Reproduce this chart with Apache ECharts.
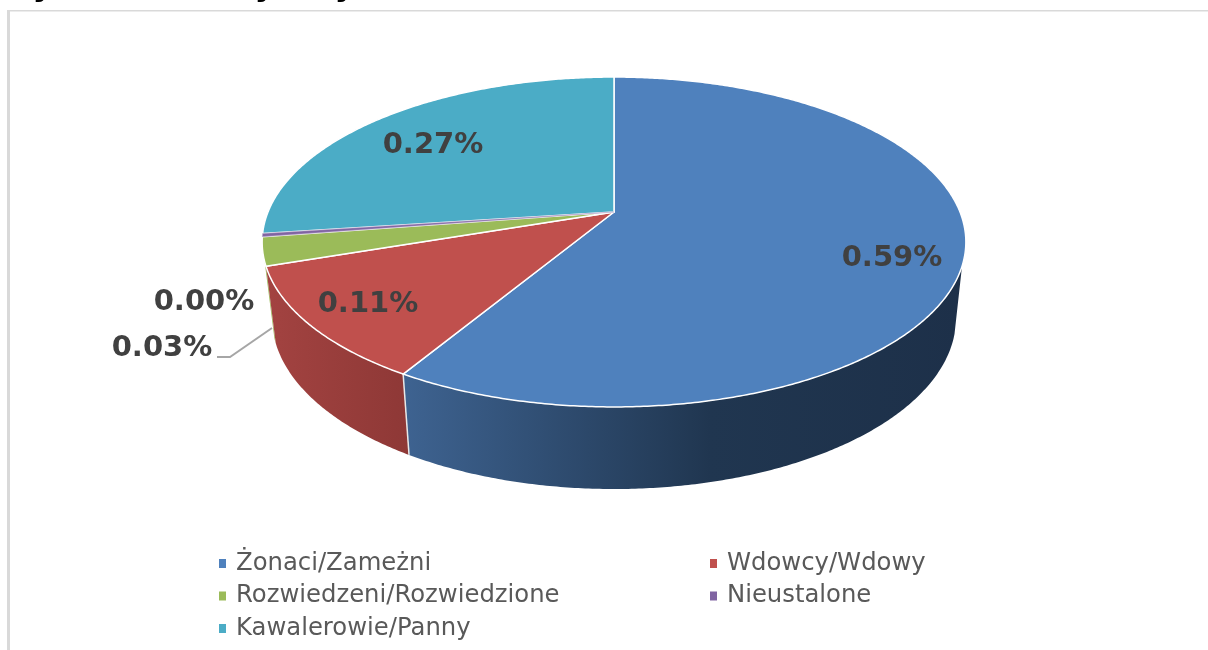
<!DOCTYPE html>
<html>
<head>
    <meta charset="utf-8">
    <title>Stan cywilny</title>
    <style>html,body{margin:0;padding:0;background:#fff;}</style>
</head>
<body>
<div id="main" style="width:1208px;height:650px;"></div>
<script src="https://cdn.jsdelivr.net/npm/echarts@6/dist/echarts.min.js"></script>
<script>
var categories = ['Żonaci/Zameżni', 'Wdowcy/Wdowy', 'Rozwiedzeni/Rozwiedzione', 'Nieustalone', 'Kawalerowie/Panny'];
var shares = [0.586, 0.112, 0.028, 0.003, 0.271];

var colors = ['#4f81bd', '#c0504d', '#9bbb59', '#8064a2', '#4bacc6'];
// label centres, picked by eye (green and purple labels are swapped in the source)
var labelPos = [[892, 258], [368, 304], [162, 348], [204, 302], [433, 145]];

// perspective ellipse of the top face and of the bottom rim
var K = 0.1818;
var top_ = {cx: 614, cy: 212, a: 346, b: 159.5};
var bot = {cx: 614, cy: 287, a: 336.3, b: 165.3};

function rim(e, deg) {
    var t = deg * Math.PI / 180;
    var u = Math.sin(t), v = -Math.cos(t), w = 1 - K * v;
    return [e.cx + e.a * u / w, e.cy + e.b * v / w];
}
function arc(e, from, to) {
    var pts = [];
    var n = Math.max(2, Math.ceil(Math.abs(to - from) / 0.5));
    for (var i = 0; i <= n; i++) pts.push(rim(e, from + (to - from) * i / n));
    return pts;
}
function total() {
    return shares.reduce(function (a, b) { return a + b; }, 0);
}
function startDeg(idx) {
    var s = 0;
    for (var i = 0; i < idx; i++) s += shares[i];
    return s / total() * 360;
}

var wallFill = [
    new echarts.graphic.LinearGradient(0, 0, 1, 0, [
        {offset: 0, color: '#3e6391'}, {offset: 0.55, color: '#203650'}, {offset: 1, color: '#1d3049'}
    ]),
    new echarts.graphic.LinearGradient(0, 0, 1, 0, [
        {offset: 0, color: '#a34341'}, {offset: 1, color: '#8e3836'}
    ]),
    '#9bbb59'
];

function renderSlice(params, api) {
    var idx = params.seriesIndex;
    var from = startDeg(idx);
    var to = from + api.value(0) / total() * 360;
    var children = [];
    var pos = labelPos[idx];

    // side walls: blue starts at the right tangent, green is only a sliver past the left tangent
    if (idx === 0) {
        children.push({
            type: 'polygon', z2: 1, silent: true,
            shape: {points: arc(top_, 108.7, to).concat(arc(bot, to, 105.7))},
            style: {fill: wallFill[0]}
        });
        var a = rim(top_, to), b = rim(bot, to);
        children.push({
            type: 'line', z2: 2, silent: true,
            shape: {x1: a[0], y1: a[1], x2: b[0], y2: b[1]},
            style: {stroke: '#e8e8e8', lineWidth: 1.5}
        });
    } else if (idx === 1) {
        children.push({
            type: 'polygon', z2: 1, silent: true,
            shape: {points: arc(top_, from, to).concat(arc(bot, to, from))},
            style: {fill: wallFill[1]}
        });
    } else if (idx === 2) {
        children.push({
            type: 'polygon', z2: 0, silent: true,
            shape: {points: arc(top_, from, from + 1.7).concat(arc(bot, from + 1.7, from))},
            style: {fill: wallFill[2]}
        });
        children.push({
            type: 'polyline', z2: 3, silent: true,
            shape: {points: [[217, 357], [230, 357], [272, 328]]},
            style: {stroke: '#a6a6a6', lineWidth: 2, fill: null}
        });
    }
    children.push({
        type: 'polygon', z2: idx === 3 ? 11 : 10, silent: true,
        shape: {points: [[top_.cx, top_.cy]].concat(arc(top_, from, to))},
        style: idx === 3
            ? {fill: colors[idx], stroke: '#b9a9cc', lineWidth: 0.5}
            : {fill: colors[idx], stroke: '#fff', lineWidth: 1.5, lineJoin: 'round'}
    });
    children.push({
        type: 'text', z2: 20, silent: true,
        x: pos[0], y: pos[1],
        style: {
            text: api.value(0).toFixed(2) + '%',
            fill: '#404040',
            font: 'bold 29px "DejaVu Sans"',
            align: 'center', verticalAlign: 'middle'
        }
    });
    return {type: 'group', children: children};
}

var series = categories.map(function (name, i) {
    return {
        type: 'custom',
        name: name,
        coordinateSystem: 'none',
        renderItem: renderSlice,
        itemStyle: {color: colors[i]},
        data: [[shares[i]]],
        silent: true,
        animation: false
    };
});

function legendAt(left, names) {
    return {
        left: left, top: 546,
        orient: 'vertical',
        selectedMode: false,
        icon: 'rect',
        itemWidth: 7, itemHeight: 9,
        itemGap: 7.5,
        data: names,
        textStyle: {
            fontFamily: 'DejaVu Sans',
            fontSize: 24.3,
            color: '#595959',
            lineHeight: 25,
            padding: [0, 0, 0, 5]
        }
    };
}

// title runs off the top of the picture, only the tails are left
var tails = [['y', 43], ['y', 265], ['y', 345], ['(', 507], [')', 760]];

var myChart = echarts.init(document.getElementById('main'));
myChart.setOption({
    animation: false,
    backgroundColor: '#fff',
    legend: [
        legendAt(214, [categories[0], categories[2], categories[4]]),
        legendAt(705, [categories[1], categories[3]])
    ],
    graphic: [
        {type: 'rect', silent: true, shape: {x: 7, y: 10, width: 3, height: 640}, style: {fill: '#d9d9d9'}},
        {type: 'rect', silent: true, shape: {x: 7, y: 10, width: 1201, height: 1.5}, style: {fill: '#d9d9d9'}}
    ].concat(tails.map(function (t) {
        return {
            type: 'text', silent: true, x: t[1], y: 3,
            style: {
                text: t[0], fill: '#000',
                font: 'bold 32px "DejaVu Sans"',
                align: 'center', verticalAlign: 'bottom'
            }
        };
    })),
    series: series
});
</script>
</body>
</html>
